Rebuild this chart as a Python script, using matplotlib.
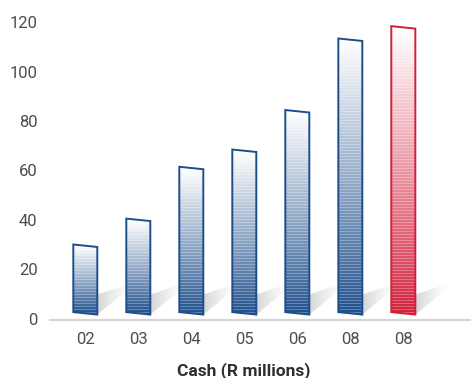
import numpy as np
import matplotlib
matplotlib.use("Agg")
import matplotlib.pyplot as plt
from matplotlib.patches import Polygon
from matplotlib.colors import to_rgb

plt.rcParams['font.family'] = ['Roboto', 'DejaVu Sans']

# data
years = ["02", "03", "04", "05", "06", "08", "08"]
cash = [29.5, 40, 61, 68, 84, 113, 118]
bar_colors = ["#1d4e8b"] * 6 + ["#d21f3a"]
yticks = [0, 20, 40, 60, 80, 100, 120]

W, H = 471, 378
fig = plt.figure(figsize=(W / 100, H / 100), dpi=100)
ax = fig.add_axes([50 / W, 58 / H, 421 / W, 320 / H])
xlim = (-0.666, 7.277)
ylim = (-0.6, 129.1)
px_x = 421 / (xlim[1] - xlim[0])   # pixels per x unit
px_y = 320 / (ylim[1] - ylim[0])   # pixels per y unit

bw = 0.453      # bar width
base = 2.1      # bars float a little above zero
slant = 1.0     # top/bottom lean down to the right

for i, (v, c) in enumerate(zip(cash, bar_colors)):
    x0, x1 = i - bw / 2, i + bw / 2
    dark = np.array(to_rgb(c))
    white = np.ones(3)

    # shadow on the floor, fading to the upper right
    xr, yb = x1, base - slant / 2
    sh = [(xr, yb), (xr, yb + 20 / px_y),
          (xr + 38 / px_x, yb + 33 / px_y), (xr + 32 / px_x, yb + 26 / px_y)]
    sh_patch = Polygon(sh, closed=True, facecolor='none', edgecolor='none')
    ax.add_patch(sh_patch)
    gx = np.linspace(0, 1, 40)
    simg = np.zeros((1, 40, 4))
    simg[..., :3] = 0.70
    simg[0, :, 3] = (1 - gx) ** 1.6 * 0.55
    im = ax.imshow(simg, extent=[xr, xr + 38 / px_x, yb, yb + 33 / px_y],
                   aspect='auto', origin='lower', interpolation='bilinear', zorder=1)
    im.set_clip_path(sh_patch)

    # bar body: vertical gradient with fine horizontal stripes
    verts = [(x0, base + slant / 2), (x1, base - slant / 2),
             (x1, v - slant / 2), (x0, v + slant / 2)]
    lo, hi = base - slant, v + slant
    nrows = int(np.ceil((hi - lo) * px_y))
    yy = lo + (np.arange(nrows) + 0.5) / px_y
    t = np.clip((yy - base) / (v - base), 0, 1) ** 0.9
    cols = dark[None, :] * (1 - t[:, None]) + white[None, :] * t[:, None]
    stripe = (np.arange(nrows) % 3) == 0
    cols[stripe] = cols[stripe] * 0.72 + 0.28
    img = np.ones((nrows, 1, 4))
    img[:, 0, :3] = cols
    patch = Polygon(verts, closed=True, facecolor='none', edgecolor=c,
                    linewidth=1.4, zorder=3)
    ax.add_patch(patch)
    im = ax.imshow(img, extent=[x0, x1, lo, lo + nrows / px_y], aspect='auto',
                   origin='lower', interpolation='nearest', zorder=2)
    im.set_clip_path(patch)

ax.set_xlim(*xlim)
ax.set_ylim(*ylim)
ax.set_xticks(range(len(years)))
ax.set_xticklabels(years)
ax.set_yticks(yticks)
ax.tick_params(axis='both', length=0, labelsize=12, labelcolor='#4d4d4d')
ax.tick_params(axis='y', pad=9)
ax.tick_params(axis='x', pad=9)

for s in ['top', 'right', 'left']:
    ax.spines[s].set_visible(False)
ax.spines['bottom'].set_color('#d6d6d6')
ax.spines['bottom'].set_linewidth(1.6)

fig.text(244 / W, 1 - 371 / H, "Cash (R millions)", ha='center', va='center',
         fontsize=12.5, fontweight='bold', color='#2e2e2e')

fig.savefig("out.png", dpi=100)
